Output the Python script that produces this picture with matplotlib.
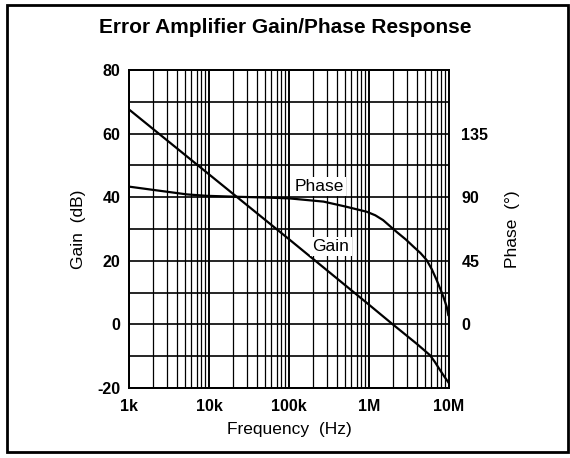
import matplotlib.pyplot as plt
from matplotlib.patches import Rectangle
import numpy as np

plt.rcParams['font.family'] = ['Liberation Sans', 'DejaVu Sans']
plt.rcParams['axes.unicode_minus'] = False

# Gain curve (dB) vs frequency (Hz)
gain_freq = [1e3, 1e4, 1e5, 1e6, 1.9e6, 4e6, 5.8e6, 6.7e6, 7.7e6, 8.8e6, 1e7]
gain_db = [67.6, 47.2, 26.8, 6.2, 0.4, -6.2, -9.7, -11.9, -14.3, -16.5, -18.5]

# Phase curve (degrees) vs frequency (Hz)
phase_freq = [1e3, 2e3, 5.3e3, 9.3e3, 2e4, 5e4, 1e5, 2.7e5, 5e5, 9.4e5, 1.2e6, 1.5e6,
              2.2e6, 2.9e6, 3.6e6, 4.4e6, 5.25e6, 6.1e6, 7e6, 7.8e6, 8.5e6, 9.35e6, 9.8e6]
phase_deg = [97.5, 95.2, 92.0, 91.0, 90.4, 89.8, 89.2, 86.9, 83.5, 79.7, 77.2, 73.8,
             65.6, 60.0, 55.0, 50.5, 45.6, 39.0, 31.5, 25.0, 19.6, 12.6, 6.7]

gain_ticks = [-20, 0, 20, 40, 60, 80]
phase_ticks = [0, 45, 90, 135]
freq_ticks = [1e3, 1e4, 1e5, 1e6, 1e7]
freq_labels = ['1k', '10k', '100k', '1M', '10M']

fig = plt.figure(figsize=(5.7, 4.58), dpi=100)
ax = fig.add_axes([0.2263, 0.1528, 0.5614, 0.6943])
ax2 = ax.twinx()

ax.set_xscale('log')
ax.set_xlim(1e3, 1e7)
ax.set_ylim(-20, 80)
ax2.set_ylim(-45, 180)

ax.set_xticks(freq_ticks)
ax.set_xticklabels(freq_labels)
ax.set_yticks(gain_ticks)
ax.set_yticks(np.arange(-20, 81, 10), minor=True)
ax2.set_yticks(phase_ticks)

ax.grid(True, which='major', axis='x', color='black', linewidth=1.4)
ax.grid(True, which='minor', axis='x', color='black', linewidth=0.9)
ax.grid(True, which='both', axis='y', color='black', linewidth=1.2)
ax.set_axisbelow(True)

for a in (ax, ax2):
    a.tick_params(which='both', length=0, labelsize=11.5)
    for lbl in a.get_xticklabels() + a.get_yticklabels():
        lbl.set_fontweight('bold')
    for s in a.spines.values():
        s.set_linewidth(1.3)
ax.tick_params(axis='y', pad=6)
ax.tick_params(axis='x', pad=8)
ax2.tick_params(axis='y', pad=9)

ax.plot(gain_freq, gain_db, color='black', linewidth=1.6)
ax2.plot(phase_freq, phase_deg, color='black', linewidth=1.6)

box = dict(facecolor='white', edgecolor='none', pad=1.5)
ax.text(2.4e5, 43.5, 'Phase', fontsize=12.5, ha='center', va='center', bbox=box)
ax.text(3.35e5, 24.5, 'Gain', fontsize=12.5, ha='center', va='center', bbox=box)

ax.set_ylabel('Gain  (dB)', fontsize=12.5, labelpad=8)
ax2.set_ylabel('Phase  (°)', fontsize=12.5, labelpad=12)
ax.set_xlabel('Frequency  (Hz)', fontsize=12.5, labelpad=6)

fig.text(0.5, 0.939, 'Error Amplifier Gain/Phase Response', fontsize=15,
         fontweight='bold', ha='center', va='center')

fig.patches.append(Rectangle((7 / 570, 6 / 458), 561 / 570, 447 / 458,
                             transform=fig.transFigure, fill=False,
                             edgecolor='black', linewidth=2))

fig.savefig('out.png', dpi=100)
